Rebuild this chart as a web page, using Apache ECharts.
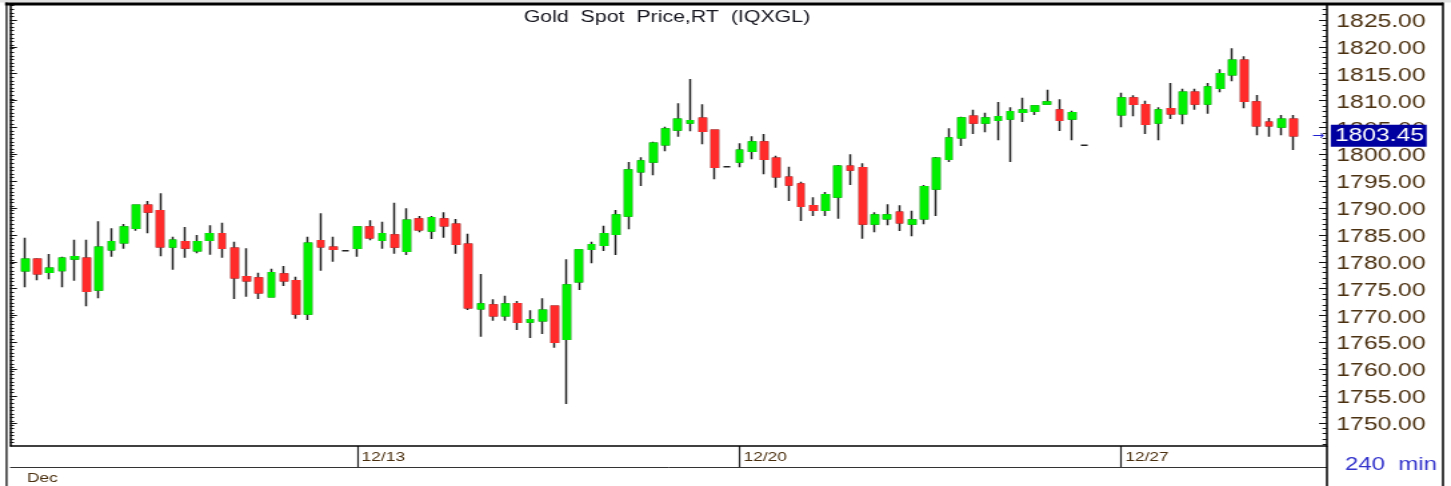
<!DOCTYPE html>
<html>
<head>
<meta charset="utf-8">
<script src="https://cdn.jsdelivr.net/npm/echarts@6/dist/echarts.min.js"></script>
<style>
html,body{margin:0;padding:0;background:#fff;overflow:hidden;width:1451px;height:486px;}
#chart{width:1088px;height:486px;transform:scaleX(1.33364);transform-origin:0 0;}
</style>
</head>
<body>
<div id="chart"></div>
<script>
// ---------------- data (240-min bars, Gold Spot) ----------------
const openVals = [1778.34,1780.46,1778.04,1778.40,1780.52,1780.64,1774.75,1782.25,1783.55,1786.23,
1790.51,1789.51,1782.75,1783.74,1782.06,1784.00,1785.23,1782.50,1777.23,1776.98,
1773.50,1777.73,1776.48,1770.28,1783.93,1782.69,1782.07,1782.50,1786.47,1784.00,
1784.98,1781.95,1787.96,1785.73,1787.96,1786.97,1783.25,1771.27,1771.96,1769.96,
1772.20,1768.79,1769.03,1771.71,1765.57,1776.29,1782.32,1783.07,1785.11,1788.52,
1796.77,1798.57,1801.79,1804.53,1805.83,1806.70,1804.47,1797.70,1798.57,1800.56,
1802.29,1799.26,1795.72,1794.48,1790.44,1789.58,1792.06,1797.77,1797.51,1787.03,
1788.02,1789.21,1787.03,1788.02,1793.55,1799.07,1803.09,1807.08,1805.83,1806.33,
1806.57,1807.82,1808.00,1809.37,1808.25,1806.57,1801.68,null,null,1807.37,
1810.48,1809.24,1805.83,1808.49,1807.56,1811.54,1809.37,1812.29,1814.82,1817.50,
1809.74,1805.96,1805.09,1806.52];
const highVals = [1784.48,1780.65,1781.45,1780.95,1784.11,1784.11,1787.53,1786.23,1787.03,1790.60,
1791.31,1792.75,1784.67,1786.47,1784.98,1786.79,1787.27,1783.74,1782.50,1777.97,
1778.71,1779.21,1777.22,1784.67,1789.02,1784.67,1782.07,1786.47,1787.72,1787.47,
1791.00,1789.95,1788.52,1788.52,1789.21,1787.96,1785.23,1777.73,1773.02,1773.69,
1772.70,1770.97,1773.20,1771.71,1780.46,1782.19,1783.74,1786.71,1789.64,1798.57,
1799.45,1802.35,1805.14,1809.50,1814.02,1809.31,1804.47,1797.70,1802.05,1803.35,
1803.78,1799.74,1797.70,1794.90,1792.00,1792.99,1798.01,1800.00,1798.33,1789.21,
1790.70,1790.51,1789.51,1794.29,1799.50,1804.84,1807.00,1808.31,1807.75,1809.74,
1808.75,1810.54,1808.99,1812.03,1810.24,1808.12,1801.68,null,null,1811.47,
1810.99,1809.98,1808.75,1813.27,1812.21,1812.21,1813.27,1815.82,1819.73,1818.24,
1811.04,1806.76,1807.32,1807.32];
const lowVals = [1775.25,1776.55,1776.74,1775.25,1776.48,1771.72,1773.20,1780.95,1782.43,1785.79,
1785.30,1781.02,1778.53,1780.76,1781.58,1781.32,1780.76,1773.07,1773.50,1773.07,
1773.50,1775.49,1769.40,1769.16,1778.34,1780.02,1782.07,1780.95,1784.00,1782.43,
1781.50,1781.26,1785.49,1784.24,1784.48,1781.50,1771.02,1766.06,1769.03,1769.03,
1767.30,1765.81,1766.56,1764.01,1753.53,1774.75,1779.72,1782.00,1781.26,1786.04,
1794.10,1796.10,1800.56,1803.28,1804.28,1801.87,1795.35,1797.70,1797.58,1799.07,
1796.28,1793.79,1791.31,1787.59,1788.52,1788.52,1788.02,1794.29,1784.29,1785.49,
1786.79,1785.73,1784.74,1786.98,1788.52,1798.57,1801.55,1803.78,1804.10,1802.61,
1798.57,1806.02,1807.32,1809.37,1804.34,1802.61,1801.68,null,null,1805.03,
1807.08,1803.78,1802.61,1806.57,1805.59,1808.31,1807.56,1811.54,1813.59,1808.57,
1803.54,1803.28,1803.54,1800.80];
const closeVals = [1780.46,1777.78,1778.78,1780.64,1780.95,1774.51,1782.69,1783.74,1786.47,1790.51,
1789.27,1782.81,1784.00,1782.56,1783.74,1785.23,1782.50,1777.04,1776.48,1774.24,
1777.97,1776.48,1770.28,1783.44,1782.81,1782.32,1782.07,1786.47,1784.48,1785.23,
1782.75,1787.72,1785.97,1788.20,1786.71,1783.25,1771.45,1772.14,1769.96,1772.14,
1768.74,1769.22,1770.97,1765.01,1775.68,1782.19,1783.18,1785.23,1788.71,1797.08,
1798.76,1802.05,1804.71,1806.52,1806.26,1804.28,1797.58,1797.70,1800.75,1802.29,
1799.07,1795.83,1794.29,1790.32,1789.58,1792.48,1797.77,1797.08,1787.03,1788.71,
1788.71,1787.27,1787.78,1793.97,1799.26,1803.04,1806.76,1805.83,1806.76,1807.00,
1807.93,1808.25,1808.99,1809.74,1806.33,1807.75,1801.68,null,null,1810.48,
1809.31,1805.59,1808.25,1807.56,1811.54,1809.37,1812.53,1815.00,1817.50,1809.87,
1805.33,1805.33,1806.52,1803.45];
const dayIndex = [27, 58, 89];
const dayText = ['12/13', '12/20', '12/27'];
const priceTicks = [1750,1755,1760,1765,1770,1775,1780,1785,1790,1795,1800,1805,1810,1815,1820,1825];
const titleText = 'Gold  Spot  Price,RT  (IQXGL)';
const monthText = 'Dec';
const periodText = '240  min';
const categories = openVals.map((v, i) => 'bar ' + (i + 1));
const lastPrice = closeVals[closeVals.length - 1];

// ---------------- build ----------------
const minorRight = [];
for (let v = 1746; v <= 1827; v++) minorRight.push(v);
const minorLeft = [];
for (let k = -4; k <= 120; k++) minorLeft.push(1825 - k * 2 / 3);

const fullData = openVals.map((o, i) => o == null ? '-' : [o, closeVals[i], lowVals[i], highVals[i]]);
const bodyData = openVals.map((o, i) => (o == null || o === closeVals[i]) ? '-' :
  [o, closeVals[i], Math.min(o, closeVals[i]), Math.max(o, closeVals[i])]);

const FONT = 'Liberation Sans, Arial, sans-serif';
const LABEL = '#4b3010';
const UP = '#00ee00', DOWN = '#ff2b2b', WICK = '#222';
const YMIN = 1745.72, YMAX = 1827.79;

const chart = echarts.init(document.getElementById('chart'), null, {renderer: 'canvas', width: 1088, height: 486});

const yBase = {type: 'value', min: YMIN, max: YMAX, scale: true, splitLine: {show: false}};

chart.setOption({
  animation: false,
  backgroundColor: '#fff',
  grid: {left: 14.13, right: 113.33, top: 5, bottom: 40, containLabel: false, outerBoundsMode: 'none'},
  xAxis: {
    type: 'category', data: categories, boundaryGap: true,
    axisLine: {show: false},
    axisTick: {show: true, alignWithLabel: true, interval: (i) => dayIndex.includes(i), length: 21,
      lineStyle: {color: '#222', width: 1.2}},
    axisLabel: {show: true, interval: (i) => dayIndex.includes(i),
      formatter: (v, i) => { const k = dayIndex.indexOf(i); return k >= 0 ? dayText[k] : ''; },
      align: 'left', margin: 5, padding: [0, 0, 0, 3], fontSize: 13, fontFamily: FONT, color: LABEL},
    splitLine: {show: false}
  },
  yAxis: [
    Object.assign({}, yBase, {position: 'right', offset: 20.4,
      axisLine: {show: true, lineStyle: {color: '#000', width: 1.5}},
      axisTick: {show: true, inside: true, length: 6, customValues: priceTicks, lineStyle: {color: '#111', width: 1}},
      axisLabel: {show: true, customValues: priceTicks, formatter: (v) => v.toFixed(2), margin: 7,
        verticalAlign: 'top', lineHeight: 4, fontSize: 18.5, fontFamily: FONT, color: LABEL}}),
    Object.assign({}, yBase, {position: 'right', offset: 20.4,
      axisLine: {show: false},
      axisTick: {show: true, inside: true, length: 3.4, customValues: minorRight, lineStyle: {color: '#111', width: 1}},
      axisLabel: {show: false}}),
    Object.assign({}, yBase, {position: 'left', offset: 6.63,
      axisLine: {show: true, lineStyle: {color: '#000', width: 1.5}},
      axisTick: {show: true, inside: true, length: 5.2, customValues: priceTicks, lineStyle: {color: '#111', width: 1}},
      axisLabel: {show: false}}),
    Object.assign({}, yBase, {position: 'left', offset: 6.63,
      axisLine: {show: false},
      axisTick: {show: true, inside: true, length: 3, customValues: minorLeft, lineStyle: {color: '#111', width: 1}},
      axisLabel: {show: false}})
  ],
  series: [
    {
      type: 'candlestick', name: 'range', data: fullData, yAxisIndex: 0, barWidth: 5.25, z: 2,
      itemStyle: {color: WICK, color0: WICK, borderColor: WICK, borderColor0: WICK, borderColorDoji: WICK, borderWidth: 1.5}
    },
    {
      type: 'candlestick', name: 'body', data: bodyData, yAxisIndex: 0, barWidth: 5.25, z: 3,
      itemStyle: {color: UP, color0: DOWN, borderColor: UP, borderColor0: DOWN, borderWidth: 1.5},
      markLine: {
        silent: true, symbol: ['none', 'none'], animation: false, precision: 2,
        lineStyle: {color: 'rgba(255,255,255,0)', width: 0.1, type: 'solid'},
        emphasis: {disabled: true},
        data: [{yAxis: lastPrice}],
        label: {show: true, position: 'end', distance: 9, color: '#2a2ad0',
          formatter: () => '{a|→}{b|' + lastPrice.toFixed(2) + '}',
          rich: {
            a: {fontSize: 11, color: '#2020d0', padding: [0, 5, 0, 0], fontFamily: 'DejaVu Sans, sans-serif'},
            b: {fontSize: 18.5, color: '#fff', backgroundColor: '#0000a0', padding: [2, 2, 1, 3], lineHeight: 19, fontFamily: FONT}
          }}
      }
    }
  ],
  graphic: {elements: [
    {type: 'rect', z: 10, shape: {x: 0, y: 0, width: 1088, height: 2.5}, style: {fill: '#e2e2e2'}},
    {type: 'rect', z: 10, shape: {x: 3.75, y: 2.5, width: 1078.3, height: 3}, style: {fill: '#000'}},
    {type: 'line', z: 10, shape: {x1: 4.9, y1: 2.5, x2: 4.9, y2: 486}, style: {stroke: '#000', lineWidth: 1.2}},
    {type: 'line', z: 10, shape: {x1: 7.5, y1: 446, x2: 995, y2: 446}, style: {stroke: '#000', lineWidth: 1.5}},
    {type: 'line', z: 10, shape: {x1: 7.5, y1: 467.5, x2: 995, y2: 467.5}, style: {stroke: '#333', lineWidth: 1}},
    {type: 'line', z: 10, shape: {x1: 995, y1: 446, x2: 995, y2: 486}, style: {stroke: '#000', lineWidth: 1.5}},
    {type: 'line', z: 10, shape: {x1: 1082, y1: 2.5, x2: 1082, y2: 486}, style: {stroke: '#000', lineWidth: 1.5}},
    {type: 'text', z: 10, x: 500.1, y: 18, style: {text: titleText, fill: '#15151f', font: '16px ' + FONT, textAlign: 'center', textVerticalAlign: 'middle'}},
    {type: 'text', z: 10, x: 20.2, y: 478, style: {text: monthText, fill: LABEL, font: '13px ' + FONT, textAlign: 'left', textVerticalAlign: 'middle'}},
    {type: 'text', z: 10, x: 1008.5, y: 465, style: {text: periodText, fill: '#3333cc', font: '18px ' + FONT, textAlign: 'left', textVerticalAlign: 'middle'}}
  ]}
});
</script>
</body>
</html>
